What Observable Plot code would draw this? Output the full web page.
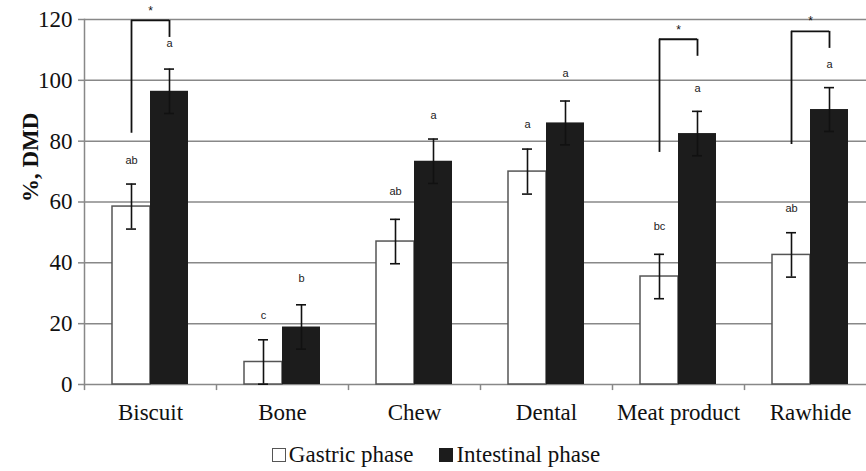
<!DOCTYPE html>
<html>
<head>
<meta charset="utf-8">
<script src="https://cdn.jsdelivr.net/npm/d3@7"></script>
<script src="https://cdn.jsdelivr.net/npm/@observablehq/plot@0.6"></script>
<style>
  body { margin: 0; background: #fff; }
  #chart { width: 866px; }
  .legend { display: flex; justify-content: center; align-items: center; height: 41px; padding-top: 8px; box-sizing: border-box;
    font-family: "Liberation Serif", serif; font-size: 23px; color: #111; padding-left: 6px; }
  .sw { display: inline-block; width: 14px; height: 14px; box-sizing: border-box; margin-right: 3px; }
  .item { display: flex; align-items: center; margin: 0 13px; }
</style>
</head>
<body>
<div id="chart"></div>
<script>
const categories = ["Biscuit", "Bone", "Chew", "Dental", "Meat product", "Rawhide"];
const gastric = [58.5, 7.4, 47, 70, 35.5, 42.6];
const intestinal = [96.4, 18.9, 73.4, 86, 82.5, 90.4];
const gastricSE = [7.4, 7.3, 7.3, 7.4, 7.3, 7.3];
const intestinalSE = [7.3, 7.3, 7.3, 7.2, 7.3, 7.2];
const gastricLetters = ["ab", "c", "ab", "a", "bc", "ab"];
const intestinalLetters = ["a", "b", "a", "a", "a", "a"];
const gastricLetterY = [73.7, 22.7, 63.5, 85.5, 52, 58];
const intestinalLetterY = [112, 34.9, 88.5, 102.3, 97.4, 105.3];
const bracketCats = ["Biscuit", "Meat product", "Rawhide"];
const bracketTop = [119.7, 113.5, 116.1];
const bracketLeftBottom = [82.6, 76.3, 78.9];
const bracketRightBottom = [114.1, 107.9, 110.5];
const starY = [122.7, 116.4, 119.4];
const yTicks = [0, 20, 40, 60, 80, 100, 120];

const G = categories.map((c, i) => ({cat: c, v: gastric[i], se: gastricSE[i], lab: gastricLetters[i], ly: gastricLetterY[i]}));
const I = categories.map((c, i) => ({cat: c, v: intestinal[i], se: intestinalSE[i], lab: intestinalLetters[i], ly: intestinalLetterY[i]}));
const B = bracketCats.map((c, i) => ({cat: c, top: bracketTop[i], lb: bracketLeftBottom[i], rb: bracketRightBottom[i], s: starY[i]}));

const serif = "Liberation Serif";
const sans = "Liberation Sans";

const chart = Plot.plot({
  width: 866,
  height: 430,
  marginTop: 19,
  marginBottom: 46,
  marginLeft: 84,
  marginRight: 0,
  style: {fontFamily: serif, background: "#fff", color: "#111"},
  x: {domain: categories, range: [84, 876], padding: 0, label: null},
  y: {domain: [0, 120], label: null},
  marks: [
    Plot.ruleY(yTicks, {y: d => d, stroke: "#888", strokeWidth: 1.5}),
    Plot.frame({anchor: "left", stroke: "#888", strokeWidth: 1.5}),
    Plot.axisY({ticks: yTicks, tickSize: 6, tickPadding: 6, fontSize: 23, stroke: "#888", strokeWidth: 1.5, label: null, fill: "#111"}),
    Plot.ruleX(categories, {x: d => d, dx: -66, y1: 0, y2: -2, stroke: "#888", strokeWidth: 1.5}),
    Plot.axisX({tickSize: 0, tickPadding: 19, fontSize: 23, label: null, fill: "#111"}),
    Plot.barY(G, {x: "cat", y: "v", insetLeft: 28, insetRight: 66, fill: "#fff", stroke: "#555", strokeWidth: 1.5}),
    Plot.barY(I, {x: "cat", y: "v", insetLeft: 66, insetRight: 28, fill: "#1c1c1c"}),
    Plot.ruleX(G, {x: "cat", dx: -19, y1: d => d.v - d.se, y2: d => d.v + d.se, stroke: "#111", strokeWidth: 1.6}),
    Plot.ruleX(I, {x: "cat", dx: 19, y1: d => d.v - d.se, y2: d => d.v + d.se, stroke: "#111", strokeWidth: 1.6}),
    Plot.tickY(G, {x: "cat", y: d => d.v - d.se, insetLeft: 42, insetRight: 80, stroke: "#111", strokeWidth: 1.6}),
    Plot.tickY(G, {x: "cat", y: d => d.v + d.se, insetLeft: 42, insetRight: 80, stroke: "#111", strokeWidth: 1.6}),
    Plot.tickY(I, {x: "cat", y: d => d.v - d.se, insetLeft: 80, insetRight: 42, stroke: "#111", strokeWidth: 1.6}),
    Plot.tickY(I, {x: "cat", y: d => d.v + d.se, insetLeft: 80, insetRight: 42, stroke: "#111", strokeWidth: 1.6}),
    Plot.text(G, {x: "cat", y: "ly", text: "lab", dx: -19, fontSize: 11, fontFamily: sans, fill: "#222"}),
    Plot.text(I, {x: "cat", y: "ly", text: "lab", dx: 19, fontSize: 11, fontFamily: sans, fill: "#222"}),
    Plot.ruleX(B, {x: "cat", dx: -19, y1: "lb", y2: "top", stroke: "#111", strokeWidth: 1.8}),
    Plot.ruleX(B, {x: "cat", dx: 19, y1: "rb", y2: "top", stroke: "#111", strokeWidth: 1.8}),
    Plot.tickY(B, {x: "cat", y: "top", insetLeft: 47, insetRight: 47, stroke: "#111", strokeWidth: 1.8}),
    Plot.text(B, {x: "cat", y: "s", text: d => "*", fontSize: 12, fontFamily: sans, fill: "#111"}),
    Plot.text(["%, DMD"], {frameAnchor: "left", dx: -54, rotate: -90, fontWeight: "bold", fontSize: 23, fontFamily: serif, fill: "#111"})
  ]
});
document.getElementById("chart").appendChild(chart);

const legend = document.createElement("div");
legend.className = "legend";
legend.innerHTML =
  '<span class="item"><span class="sw" style="border:1.5px solid #555;background:#fff"></span>Gastric phase</span>' +
  '<span class="item"><span class="sw" style="background:#1c1c1c"></span>Intestinal phase</span>';
document.getElementById("chart").appendChild(legend);
</script>
</body>
</html>
